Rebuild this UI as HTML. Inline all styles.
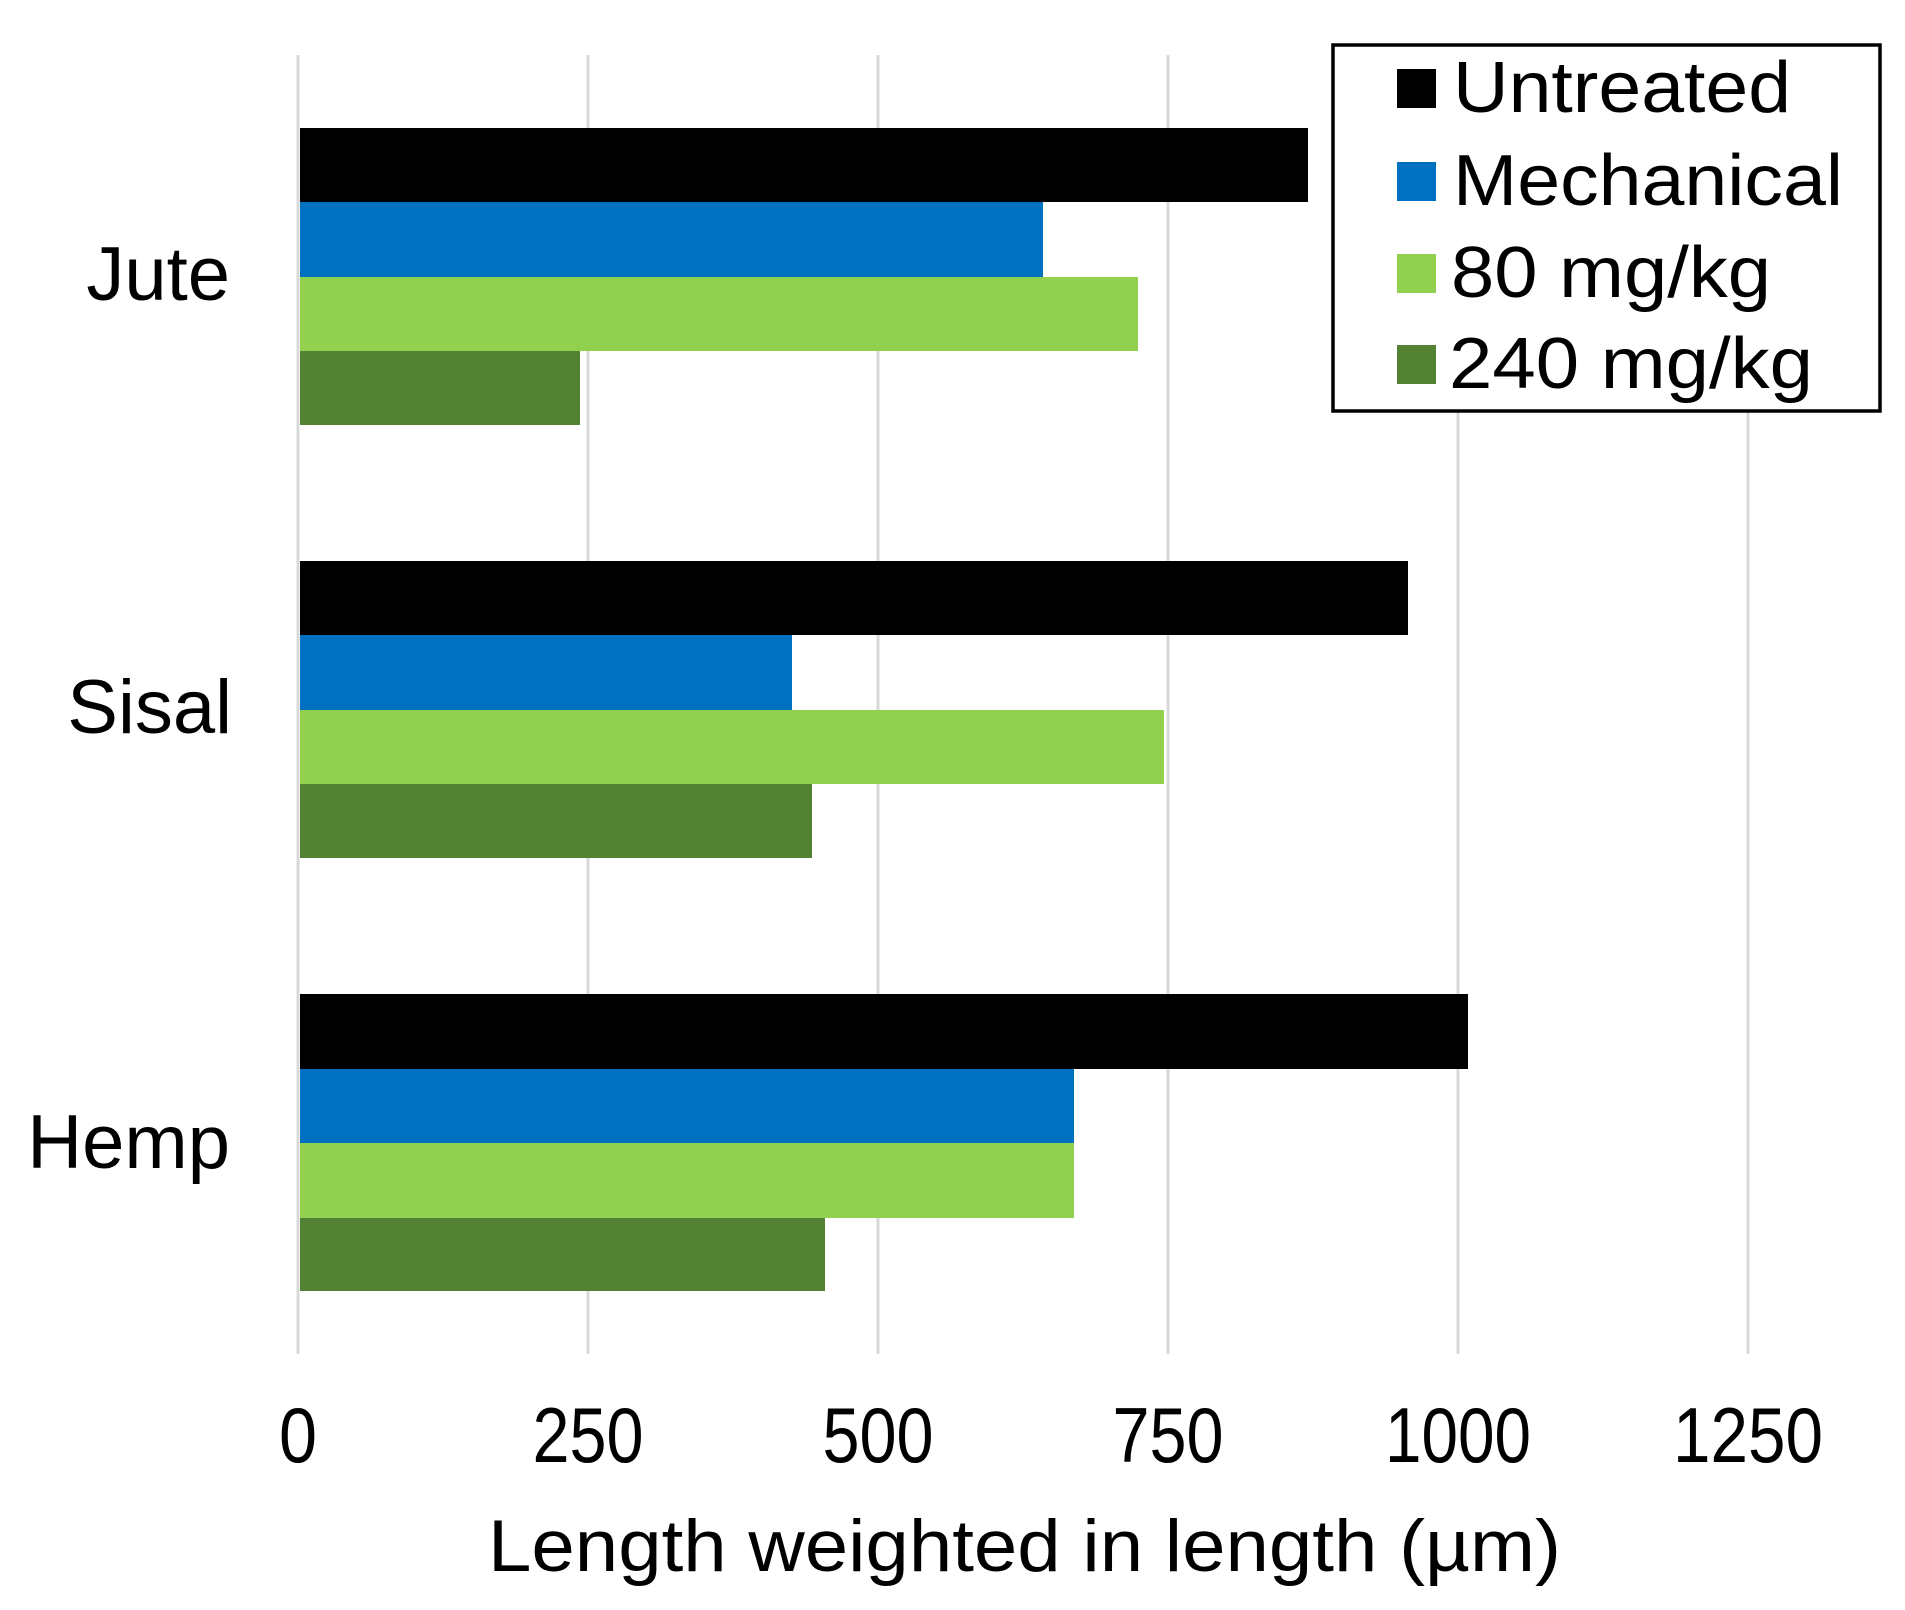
<!DOCTYPE html>
<html><head><meta charset="utf-8"><style>html,body{margin:0;padding:0;background:#fff}svg{display:block}</style></head>
<body>
<svg width="1905" height="1610" viewBox="0 0 1905 1610" xmlns="http://www.w3.org/2000/svg" font-family="Liberation Sans, Arial, sans-serif">
<rect width="1905" height="1610" fill="#fff"/>
<g stroke="#d9d9d9" stroke-width="3">
<line x1="298" y1="55" x2="298" y2="1354"/>
<line x1="588" y1="55" x2="588" y2="1354"/>
<line x1="878" y1="55" x2="878" y2="1354"/>
<line x1="1168" y1="55" x2="1168" y2="1354"/>
<line x1="1458" y1="55" x2="1458" y2="1354"/>
<line x1="1748" y1="55" x2="1748" y2="1354"/>
</g>
<!-- Jute -->
<rect x="300" y="128" width="1008" height="74" fill="#000"/>
<rect x="300" y="202" width="743" height="75" fill="#0070c0"/>
<rect x="300" y="277" width="838" height="74" fill="#92d050"/>
<rect x="300" y="351" width="280" height="74" fill="#548235"/>
<!-- Sisal -->
<rect x="300" y="561" width="1108" height="74" fill="#000"/>
<rect x="300" y="635" width="492" height="75" fill="#0070c0"/>
<rect x="300" y="710" width="864" height="74" fill="#92d050"/>
<rect x="300" y="784" width="512" height="74" fill="#548235"/>
<!-- Hemp -->
<rect x="300" y="994" width="1168" height="75" fill="#000"/>
<rect x="300" y="1069" width="774" height="74" fill="#0070c0"/>
<rect x="300" y="1143" width="774" height="75" fill="#92d050"/>
<rect x="300" y="1218" width="525" height="73" fill="#548235"/>
<g font-size="76" fill="#000" text-anchor="end">
<text x="230" y="300">Jute</text>
<text x="232" y="733">Sisal</text>
<text x="230" y="1168">Hemp</text>
</g>
<g font-size="78" fill="#000" text-anchor="middle">
<text x="298" y="1462" textLength="38" lengthAdjust="spacingAndGlyphs">0</text>
<text x="588" y="1462" textLength="111" lengthAdjust="spacingAndGlyphs">250</text>
<text x="878" y="1462" textLength="111" lengthAdjust="spacingAndGlyphs">500</text>
<text x="1168" y="1462" textLength="111" lengthAdjust="spacingAndGlyphs">750</text>
<text x="1458" y="1462" textLength="146" lengthAdjust="spacingAndGlyphs">1000</text>
<text x="1748" y="1462" textLength="150" lengthAdjust="spacingAndGlyphs">1250</text>
</g>
<text x="488" y="1571" font-size="73" fill="#000" textLength="1073" lengthAdjust="spacingAndGlyphs">Length weighted in length (µm)</text>
<rect x="1333" y="45" width="547" height="366" fill="#fff" stroke="#000" stroke-width="3.5"/>
<rect x="1397" y="69" width="39" height="39" fill="#000"/>
<rect x="1397" y="162" width="39" height="39" fill="#0070c0"/>
<rect x="1397" y="254" width="39" height="39" fill="#92d050"/>
<rect x="1397" y="345" width="39" height="39" fill="#548235"/>
<g font-size="72" fill="#000">
<text x="1453" y="112" textLength="338" lengthAdjust="spacingAndGlyphs">Untreated</text>
<text x="1453" y="205" textLength="390" lengthAdjust="spacingAndGlyphs">Mechanical</text>
<text x="1451" y="297" textLength="320" lengthAdjust="spacingAndGlyphs">80 mg/kg</text>
<text x="1449" y="388" textLength="364" lengthAdjust="spacingAndGlyphs">240 mg/kg</text>
</g>
</svg>
</body></html>
